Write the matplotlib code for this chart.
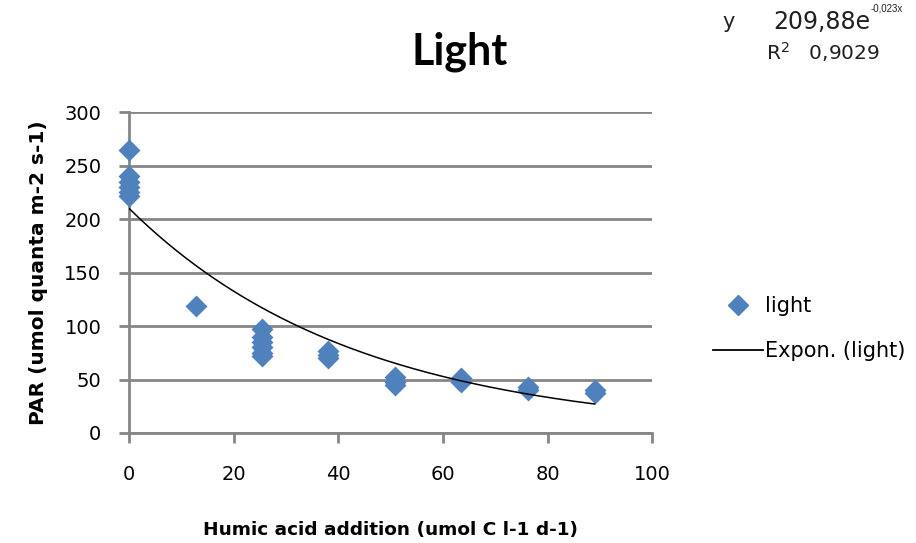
import numpy as np
import matplotlib
matplotlib.use("Agg")
import matplotlib.pyplot as plt
from matplotlib.lines import Line2D

plt.rcParams['font.family'] = ['DejaVu Sans']

# humic acid addition (umol C l-1 d-1) and measured PAR
humic = [0, 0, 0, 0, 0, 0,
         12.7,
         25.4, 25.4, 25.4, 25.4, 25.4, 25.4,
         38.1, 38.1, 38.1,
         50.8, 50.8, 50.8,
         63.5, 63.5,
         76.2, 76.2,
         89.0, 89.0]
par = [265, 240, 235, 230, 225, 222,
       119,
       97, 90, 85, 80, 75, 72,
       77, 73, 70,
       52, 48, 45,
       51, 48,
       43, 40,
       40, 37]

# exponential trendline coefficients
fit_a = 209.88
fit_b = -0.023
fit_r2 = 0.9029

grid_col = '#868686'
pt_col = '#4F81BD'

fig = plt.figure(figsize=(9.16, 5.43), dpi=100)
ax = fig.add_axes([0.141, 0.2026, 0.571, 0.591])

ax.scatter(humic, par, marker='D', s=125, color=pt_col, zorder=3,
           linewidths=0, clip_on=False)
xs = np.linspace(min(humic), max(humic), 200)
ax.plot(xs, fit_a * np.exp(fit_b * xs), color='black', lw=1.1, zorder=4)

ax.set_xlim(0, 100)
ax.set_ylim(0, 300)
ax.set_xticks(range(0, 101, 20))
ax.set_yticks(range(0, 301, 50))
ax.yaxis.grid(True, color=grid_col, lw=2)
ax.set_axisbelow(True)
for s in ['top', 'right']:
    ax.spines[s].set_visible(False)
for s in ['left', 'bottom']:
    ax.spines[s].set_color(grid_col)
    ax.spines[s].set_linewidth(2)
ax.tick_params(axis='both', colors=grid_col, width=2, length=7, labelsize=14,
               labelcolor='black')
ax.tick_params(axis='y', pad=13)
ax.tick_params(axis='x', pad=16)

ax.set_xlabel('Humic acid addition (umol C l-1 d-1)', fontsize=13.3,
              fontweight='bold', labelpad=27)
ax.set_ylabel('PAR (umol quanta m-2 s-1)', fontsize=14.5, fontweight='bold',
              labelpad=12)

fig.text(0.502, 0.905, 'Light', fontsize=31, fontweight='bold',
         family='Lato', ha='center', va='center')

# trendline equation, exponent drawn as a separate small raised text
eq_y = 0.960
fig.text(722 / 916, eq_y, 'y', fontsize=15, ha='left', va='center',
         color='#202020')
fig.text(870 / 916, eq_y, f'{fit_a:.2f}'.replace('.', ',') + 'e',
         fontsize=17, ha='right', va='center', color='#202020')
fig.text(871 / 916, eq_y + 0.024, f'{fit_b:.3f}'.replace('.', ',') + 'x',
         fontsize=7, family='Liberation Sans', ha='left', va='center',
         color='#202020')
fig.text(0.836, 0.905, r'R$^{\mathregular{2}}$   ' + f'{fit_r2:.4f}'.replace('.', ','),
         fontsize=14.5, ha='left', va='center', color='#202020')

handles = [Line2D([], [], marker='D', color=pt_col, ls='none', markersize=10),
           Line2D([], [], color='black', lw=1.3)]
fig.legend(handles, ['light', 'Expon. (light)'], loc='center left',
           bbox_to_anchor=(0.778, 0.395), frameon=False, fontsize=15,
           handlelength=2.4, handletextpad=0.1, labelspacing=1.2,
           borderaxespad=0, borderpad=0)

fig.savefig('out.png', dpi=100)
